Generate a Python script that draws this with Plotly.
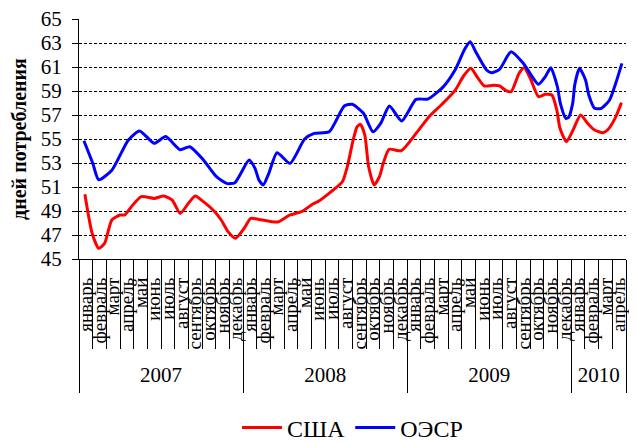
import plotly.graph_objects as go

usa_x = [0.43, 0.96, 1.44, 1.87, 2.4, 3.0, 3.35, 3.83, 4.55, 5.5, 6.2, 6.82, 7.4, 8.0, 8.5, 9.1, 9.93, 10.4,
         10.9, 11.44, 12.08, 12.56, 13.16, 14.1, 14.6, 15.43, 16.27, 17.1, 17.47, 18.42, 19.26, 19.62, 20.05,
         20.34, 20.58, 20.9, 21.18, 21.59, 21.97, 22.25, 22.68, 23.57, 24.65, 25.6, 26.56, 27.52, 28.12, 28.66,
         29.07, 29.63, 30.27, 30.75, 31.23, 31.6, 32.18, 32.55, 33.0, 33.6, 34.1, 34.58, 34.94, 35.17, 35.65,
         36.13, 36.68, 37.2, 37.7, 38.33, 38.65, 39.2, 39.67]
usa_y = [50.39, 47.14, 45.89, 46.3, 48.25, 48.67, 48.67, 49.36, 50.2, 50.05, 50.25, 49.9, 48.8, 49.64, 50.25,
         49.78, 48.94, 48.25, 47.28, 46.72, 47.56, 48.39, 48.3, 48.1, 48.1, 48.67, 48.94, 49.58, 49.78, 50.6,
         51.44, 52.69, 54.92, 56.03, 56.22, 55.33, 52.69, 51.17, 51.86, 52.97, 54.14, 54.03, 55.47, 56.86, 57.92,
         59.08, 60.25, 60.89, 60.25, 59.42, 59.47, 59.42, 59.03, 58.94, 60.47, 60.94, 60.06, 58.53, 58.72, 58.67,
         57.42, 55.89, 54.78, 55.75, 57.0, 56.3, 55.75, 55.53, 55.75, 56.72, 58.03]

oecd_x = [0.36, 1.0, 1.44, 2.4, 3.6, 4.43, 5.5, 6.34, 7.4, 8.1, 9.1, 10.05, 10.8, 11.4, 12.44, 12.87, 13.16,
          13.47, 13.88, 14.48, 15.43, 16.5, 17.2, 18.3, 19.4, 19.98, 20.8, 21.5, 22.06, 22.7, 23.6, 24.65, 25.5,
          26.6, 27.5, 28.2, 28.6, 29.07, 29.8, 30.15, 30.75, 31.6, 32.5, 33.6, 34.1, 34.5, 34.98, 35.2, 35.6,
          35.8, 36.1, 36.25, 36.6, 37.04, 37.28, 37.7, 38.2, 38.8, 39.25, 39.7]
oecd_y = [54.86, 53.0, 51.6, 52.4, 54.9, 55.67, 54.64, 55.2, 54.1, 54.36, 53.25, 51.86, 51.3, 51.36, 53.25, 52.55,
          51.58, 51.17, 52.14, 53.86, 52.97, 55.0, 55.47, 55.6, 57.75, 57.89, 57.14, 55.6, 56.3, 57.75, 56.5, 58.3,
          58.33, 59.3, 60.75, 62.47, 63.1, 62.14, 60.75, 60.53, 60.8, 62.28, 61.3, 59.56, 60.2, 60.94, 59.36, 57.97,
          56.72, 56.8, 57.97, 59.5, 60.89, 59.92, 58.67, 57.56, 57.56, 58.25, 59.64, 61.3]

month_names = ["январь", "февраль", "март", "апрель", "май", "июнь", "июль", "август",
               "сентябрь", "октябрь", "ноябрь", "декабрь"]
years = ["2007", "2008", "2009", "2010"]
months_per_year = [12, 12, 12, 4]

series_names = ["США", "ОЭСР"]
y_title = "дней потребления"

month_labels = []
for n in months_per_year:
    month_labels += month_names[:n]
n_months = len(month_labels)
month_centers = [i + 0.5 for i in range(n_months)]
month_bounds = list(range(n_months + 1))
year_bounds = [0]
for n in months_per_year:
    year_bounds.append(year_bounds[-1] + n)
year_centers = [(year_bounds[i] + year_bounds[i + 1]) / 2 for i in range(len(years))]

SERIF = "Liberation Serif"

fig = go.Figure()
fig.add_trace(go.Scatter(x=usa_x, y=usa_y, mode="lines", name=series_names[0],
                         line=dict(color="#FF0000", width=3, shape="spline", smoothing=0.6)))
fig.add_trace(go.Scatter(x=oecd_x, y=oecd_y, mode="lines", name=series_names[1],
                         line=dict(color="#0000FF", width=3, shape="spline", smoothing=0.6)))

xr = [0, n_months]
# page body has an 8px margin, so the figure is drawn 8px in from the top-left corner
fig.update_layout(
    width=621, height=435,
    margin=dict(l=71, r=3, t=11, b=184, autoexpand=False),
    paper_bgcolor="white", plot_bgcolor="white",
    font=dict(family=SERIF, color="black"),
    showlegend=True,
    legend=dict(orientation="h", x=0.5, xanchor="center", y=-0.704, yanchor="middle",
                font=dict(family=SERIF, size=24, color="black"), itemwidth=40),
    xaxis=dict(range=xr, showgrid=False, zeroline=False, showline=True, linecolor="black", linewidth=1,
               tickmode="array", tickvals=month_centers, ticktext=month_labels, ticks="",
               tickangle=-90, tickfont=dict(family=SERIF, size=19, color="black"),
               ticklabelstandoff=10, ticklabeloverflow="allow", automargin=False),
    xaxis2=dict(range=xr, overlaying="x", anchor="y", side="bottom", showgrid=False, zeroline=False,
                showline=False, tickmode="array", tickvals=month_bounds, ticks="outside", ticklen=89,
                tickcolor="black", tickwidth=1, showticklabels=False, automargin=False),
    xaxis3=dict(range=xr, overlaying="x", anchor="y", side="bottom", showgrid=False, zeroline=False,
                showline=False, tickmode="array", tickvals=year_bounds, ticks="outside", ticklen=133,
                tickcolor="black", tickwidth=1, showticklabels=False, automargin=False),
    xaxis4=dict(range=xr, overlaying="x", anchor="y", side="bottom", showgrid=False, zeroline=False,
                showline=False, tickmode="array", tickvals=year_centers, ticktext=years,
                ticks="outside", ticklen=97, tickcolor="rgba(0,0,0,0)", ticklabeloverflow="allow",
                tickfont=dict(family=SERIF, size=21, color="black"), automargin=False),
    yaxis=dict(range=[45, 65], tickmode="array", tickvals=list(range(45, 66, 2)),
               showgrid=True, gridcolor="black", gridwidth=1, griddash="3px,2px",
               zeroline=False, showline=True, linecolor="black", linewidth=1,
               ticks="outside", ticklen=6, tickcolor="black", automargin=False,
               tickfont=dict(family=SERIF, size=21, color="black"), ticklabelstandoff=6,
               ticklabeloverflow="allow",
               title=dict(text="<b>" + y_title + "</b>", font=dict(family=SERIF, size=20, color="black"),
                          standoff=12)),
)
for ax in ["x2", "x3", "x4"]:
    fig.add_trace(go.Scatter(x=[None], y=[None], xaxis=ax, yaxis="y", showlegend=False, hoverinfo="skip"))

fig.write_html("out.html")
